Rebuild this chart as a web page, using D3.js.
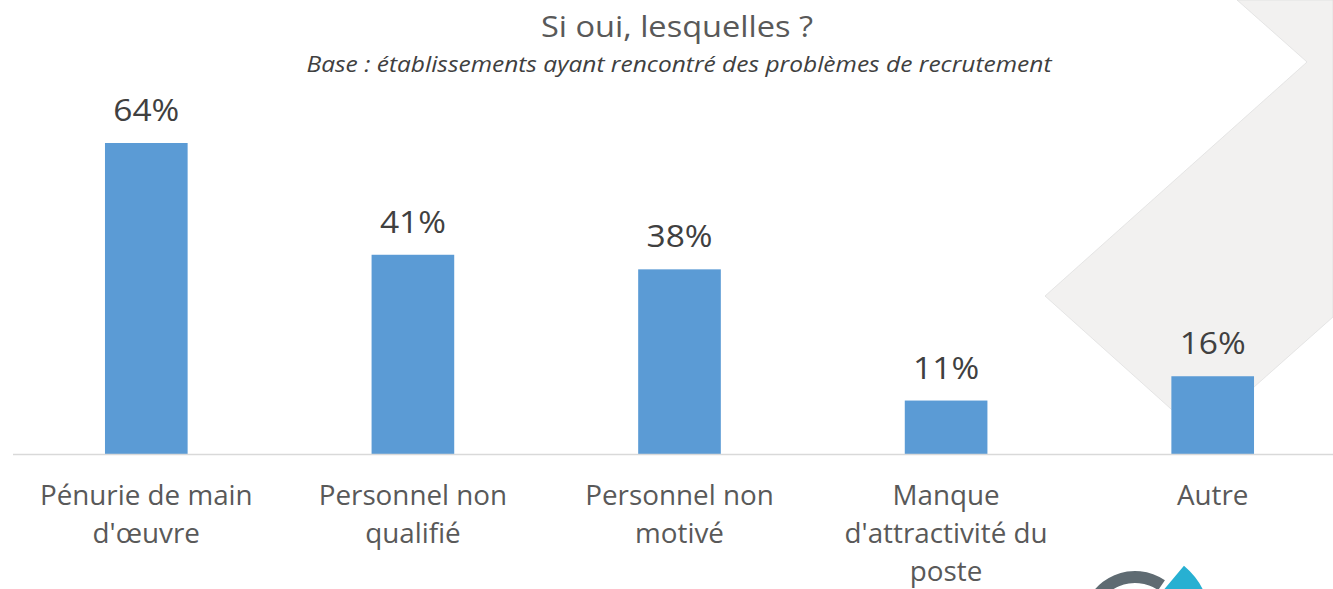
<!DOCTYPE html>
<html><head><meta charset="utf-8">
<script src="https://cdn.jsdelivr.net/npm/d3@7"></script>
<style>html,body{margin:0;padding:0;background:#fff;overflow:hidden}</style>
</head><body>
<svg id="c" width="1333" height="589"></svg>
<script>
const categories = [["Pénurie de main","d'œuvre"],["Personnel non","qualifié"],["Personnel non","motivé"],["Manque","d'attractivité du","poste"],["Autre"]];
const values = [64, 41, 38, 11, 16];
const valueLabels = ["64%","41%","38%","11%","16%"];
const title = "Si oui, lesquelles ?";
const subtitle = "Base : établissements ayant rencontré des problèmes de recrutement";

const W = 1333, H = 589;
const svg = d3.select("#c");
const FONT = "'Open Sans', sans-serif";

// background decorative shape
svg.append("polygon")
  .attr("points", [[1237,0],[1333,0],[1333,317],[1200,435],[1045,296],[1307,62]].map(p=>p.join(",")).join(" "))
  .attr("fill", "#f2f1f0").attr("stroke", "#dcdcdc").attr("stroke-width", 0.7);

const x = d3.scaleBand().domain(d3.range(values.length)).range([13, 1346]).paddingInner(0.69).paddingOuter(0.345);
const y = d3.scaleLinear().domain([0, 64]).range([454, 143]);

svg.append("g").selectAll("rect").data(values).join("rect")
  .attr("x", (d,i)=>x(i)).attr("width", x.bandwidth())
  .attr("y", d=>y(d)).attr("height", d=>y(0)-y(d))
  .attr("fill", "#5b9bd5");

svg.append("line").attr("x1", 13).attr("x2", W).attr("y1", y(0)+0.5).attr("y2", y(0)+0.5)
  .attr("stroke", "#d9d9d9").attr("stroke-width", 1.5);

svg.append("g").selectAll("text").data(values).join("text")
  .attr("x", (d,i)=>x(i)+x.bandwidth()/2).attr("y", d=>y(d)-22)
  .attr("text-anchor","middle").attr("font-family",FONT).attr("font-size",31)
  .attr("textLength",66).attr("lengthAdjust","spacingAndGlyphs")
  .attr("fill","#404040").text((d,i)=>valueLabels[i]);

const cat = svg.append("g").selectAll("text").data(categories).join("text")
  .attr("text-anchor","middle").attr("font-family",FONT).attr("font-size",27.8)
  .attr("fill","#595959");
cat.each(function(lines,i){
  d3.select(this).selectAll("tspan").data(lines).join("tspan")
    .attr("x", x(i)+x.bandwidth()/2).attr("y", (l,j)=>505+j*38).text(l=>l);
});

svg.append("text").attr("x",677).attr("y",37).attr("text-anchor","middle")
  .attr("font-family",FONT).attr("font-size",30).attr("textLength",272).attr("lengthAdjust","spacingAndGlyphs")
  .attr("fill","#595959").text(title);
svg.append("text").attr("x",679).attr("y",72).attr("text-anchor","middle")
  .attr("font-family",FONT).attr("font-size",22).attr("font-style","italic")
  .attr("textLength",745).attr("lengthAdjust","spacingAndGlyphs")
  .attr("fill","#404040").text(subtitle);

// partial logo at bottom right
const logo = svg.append("g").attr("transform","translate(1135,624)");
logo.append("path").attr("d", d3.arc().innerRadius(41).outerRadius(53).startAngle(-1.4).endAngle(0.6)()).attr("fill","#5f6b72");
logo.append("path").attr("d", d3.arc().innerRadius(40).outerRadius(76).startAngle(0.7).endAngle(1.4)()).attr("fill","#27b0d2");
</script>
</body></html>
